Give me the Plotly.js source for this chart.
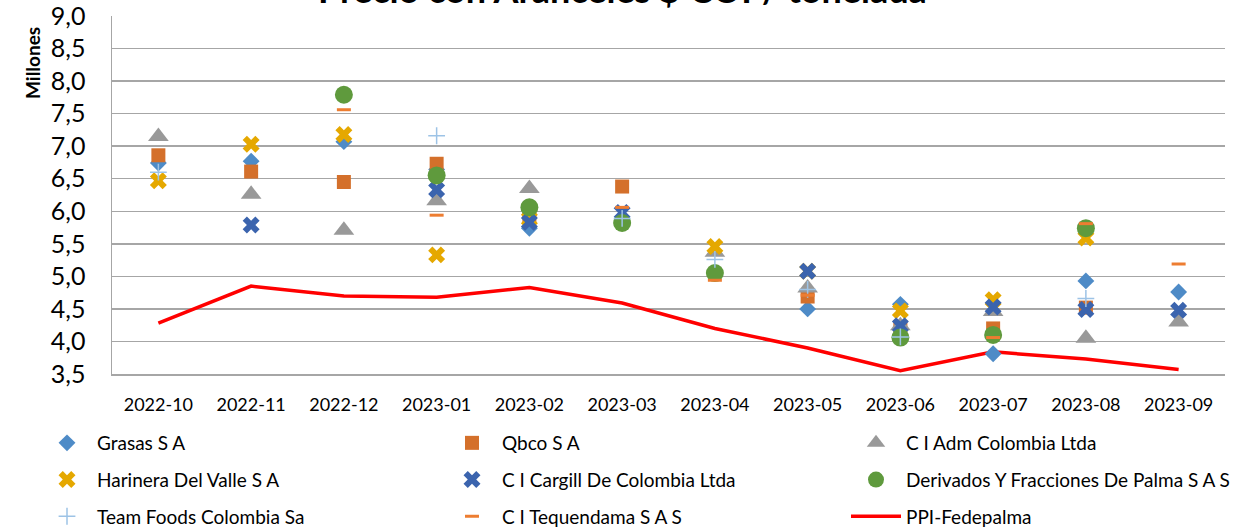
<!DOCTYPE html>
<html>
<head>
<meta charset="utf-8">
<script src="https://cdn.plot.ly/plotly-3.0.1.min.js"></script>
<style>html,body{margin:0;padding:0;background:#fff;}#chart{width:1258px;height:528px;}</style>
</head>
<body>
<div id="chart"></div>
<script>
const months = ["2022-10","2022-11","2022-12","2023-01","2023-02","2023-03","2023-04","2023-05","2023-06","2023-07","2023-08","2023-09"];
const grasas      = [6.74, 6.77, 7.07, 6.64, 5.74, null, null, 4.50, 4.57, 3.81, 4.93, 4.76];
const qbco        = [6.86, 6.61, 6.45, 6.73, 5.92, 6.38, null, 4.69, 4.22, 4.20, 4.52, null];
const adm         = [7.15, 6.26, 5.71, 6.16, 6.35, null, 5.37, 4.82, 4.24, 4.46, 4.05, 4.30];
const harinera    = [6.47, 7.03, 7.18, 5.33, 5.88, null, 5.46, 5.08, 4.47, 4.64, 5.59, null];
const cargill     = [null, 5.79, null, 6.33, 5.83, 5.98, null, 5.08, 4.24, 4.53, 4.49, 4.48];
const derivados   = [null, null, 7.79, 6.55, 6.06, 5.82, 5.05, null, 4.06, 4.10, 5.74, null];
const teamFoods   = [6.60, null, null, 7.16, null, 5.89, 5.26, 4.80, 4.07, null, 4.66, null];
const tequendama  = [null, null, 7.56, 5.94, null, 6.06, 4.94, 4.71, null, 4.06, 5.81, 5.19];
const ppi         = [4.28, 4.85, 4.70, 4.68, 4.83, 4.59, 4.20, 3.90, 3.55, 3.84, 3.73, 3.57];
const yTicks = [3.5, 4.0, 4.5, 5.0, 5.5, 6.0, 6.5, 7.0, 7.5, 8.0, 8.5, 9.0];

const FONT = "Lato, 'Open Sans', sans-serif";

function sc(name, y, symbol, color, size, legend, rank, extra) {
  const m = Object.assign({symbol: symbol, color: color, size: size, line: {width: 0}}, extra || {});
  return {type: "scatter", mode: "markers", name: name, x: months, y: y, marker: m,
          legend: legend, legendgroup: name, legendrank: rank, cliponaxis: false};
}

const data = [
  {type: "scatter", mode: "lines", name: "PPI-Fedepalma", x: months, y: ppi,
   line: {color: "#ff0000", width: 3.5}, legend: "legend3", legendgroup: "PPI-Fedepalma", legendrank: 3},
  sc("Grasas S A", grasas, "diamond", "#4e8bc7", 13, "legend", 1),
  sc("Qbco S A", qbco, "square", "#d4702b", 14, "legend2", 1),
  sc("C I Adm Colombia Ltda", adm, "triangle-up", "#999999", 18, "legend3", 1),
  sc("Harinera Del Valle S A", harinera, "x", "#e5a800", 15, "legend", 2),
  sc("C I Cargill De Colombia Ltda", cargill, "x", "#3b64ae", 15, "legend2", 2),
  sc("Derivados Y Fracciones De Palma S A S", derivados, "circle", "#5f9a3d", 18, "legend3", 2),
  sc("Team Foods Colombia Sa", teamFoods, "cross-thin", "#9dc3e6", 12, "legend", 3, {line: {width: 1.5, color: "#9dc3e6"}}),
  sc("C I Tequendama S A S", tequendama, "line-ew", "#ed7d31", 10, "legend2", 3, {line: {width: 3, color: "#ed7d31"}})
];

const legBase = {
  orientation: "v", xref: "container", yref: "container", xanchor: "left", yanchor: "top",
  y: 1 - 424/528,
  font: {family: FONT, size: 19, color: "#000"}, itemwidth: 50,
  bgcolor: "rgba(0,0,0,0)", borderwidth: 0, traceorder: "grouped", tracegroupgap: 9, itemclick: false
};

const layout = {
  width: 1258, height: 528,
  paper_bgcolor: "#ffffff", plot_bgcolor: "#ffffff",
  separators: ",.",
  margin: {l: 112, r: 33, t: 16, b: 154, autoexpand: false},
  font: {family: FONT, color: "#000"},
  showlegend: true,
  xaxis: {
    type: "category", categoryarray: months, range: [-0.5, 11.5],
    showgrid: false, showline: true, linecolor: "#a6a6a6", linewidth: 1.5,
    ticks: "", tickfont: {family: FONT, size: 18, color: "#000"}, ticklabelstandoff: 14,
    tickangle: 0, automargin: false, ticklabeloverflow: "allow",
    zeroline: false, fixedrange: true
  },
  yaxis: {
    range: [3.5, 9.0], tickvals: yTicks, tickformat: ".1f",
    showgrid: true, gridcolor: "#a6a6a6", gridwidth: 1.5,
    showline: true, linecolor: "#a6a6a6", linewidth: 1.5,
    ticks: "", tickfont: {family: FONT, size: 25, color: "#000"}, ticklabelstandoff: 20,
    automargin: false, ticklabeloverflow: "allow",
    zeroline: false, fixedrange: true
  },
  legend: Object.assign({}, legBase, {x: 37/1258}),
  legend2: Object.assign({}, legBase, {x: 442/1258}),
  legend3: Object.assign({}, legBase, {x: 846/1258}),
  annotations: [
    {text: "<b>Precio con Aranceles $ COP/ tonelada</b>", xref: "paper", yref: "paper",
     x: (622 - 112) / 1113, y: (374 + 11) / 358, xanchor: "center", yanchor: "middle", showarrow: false,
     font: {family: FONT, size: 36, color: "#000"}},
    {text: "<b>Millones</b>", xref: "paper", yref: "paper",
     x: (33 - 112) / 1113, y: (374 - 63) / 358, xanchor: "center", yanchor: "middle", textangle: -90, showarrow: false,
     font: {family: FONT, size: 19, color: "#000"}}
  ]
};

Plotly.newPlot("chart", data, layout, {displayModeBar: false, staticPlot: true});
</script>
</body>
</html>
